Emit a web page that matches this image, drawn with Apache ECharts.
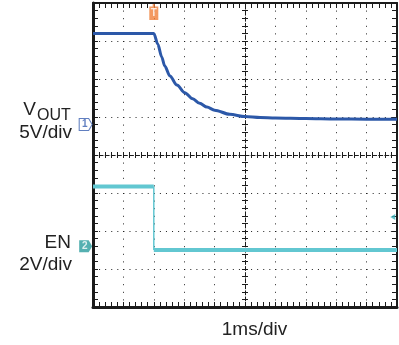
<!DOCTYPE html>
<html><head><meta charset="utf-8">
<script src="https://cdn.jsdelivr.net/npm/echarts@6/dist/echarts.min.js"></script>
<style>html,body{margin:0;padding:0;background:#fff}#c{width:399px;height:345px}</style>
</head><body><div id="c"></div>
<script>
// ---- data (time in ms, trigger at 0) ----
const timeVout = [-2, -1, 0, 0.13, 0.26, 0.36, 0.53, 0.76, 1.02, 1.28, 1.51, 1.75, 2.0, 2.5, 3.0, 3.5, 4.0, 5.0, 6.0, 7.0, 8.0];
const vout     = [12.0, 12.0, 12.0, 10.6, 8.9, 7.7, 6.4, 5.2, 4.2, 3.4, 2.8, 2.3, 1.9, 1.35, 1.05, 0.92, 0.86, 0.8, 0.74, 0.72, 0.7];
const timeEn   = [-2, 0, 0, 8];
const en       = [3.14, 3.14, -0.2, -0.2];
const groundLevel = 0;      // channel reference markers (V)
const groundMarkTime = -2.24;
const trigTime = 0;         // trigger time (ms)
const trigMarkV = 14.8;     // trigger marker height on VOUT scale
const trigLevelTime = 7.86;
const trigLevel = 1.54;     // EN trigger level (V)
const labels = {vout: 'V', voutSub: 'OUT', voutScale: '5V/div', en: 'EN', enScale: '2V/div', time: '1ms/div'};

const FONT = '"Liberation Sans", Arial, sans-serif';
const BLUE = '#2c58a8', TEAL = '#62c7d1', TEAL_D = '#2a9c9e', ORANGE = '#f07f3a', INK = '#1b1b1b';
const G = {left: 93, top: 3, width: 304, height: 304};

function edgeAxis(extra, w, split, dash) {
  return Object.assign({
    type: 'value', axisLabel: {show: false},
    axisLine: {show: true, onZero: false, lineStyle: {color: INK, width: w}},
    axisTick: {show: true, inside: true, length: 5, lineStyle: {color: INK, width: 1}},
    minorTick: {show: true, inside: true, splitNumber: 5, length: 5, lineStyle: {color: INK, width: 1}},
    splitLine: {show: split, lineStyle: {color: '#222', width: 1, type: dash}},
    minorSplitLine: {show: false}
  }, extra);
}
function centerAxis(extra, showLine) {
  return Object.assign({
    type: 'value', axisLabel: {show: false},
    axisLine: {show: showLine, onZero: true, lineStyle: {color: INK, width: 1, type: [4, 2.08]}},
    axisTick: {show: true, inside: true, length: 3, lineStyle: {color: INK, width: 1}},
    minorTick: {show: true, splitNumber: 5, length: 3, lineStyle: {color: INK, width: 1}},
    splitLine: {show: false}
  }, extra);
}

const chart = echarts.init(document.getElementById('c'), null, {renderer: 'canvas'});
const marker = (sym, size, fill, stroke, txt, txtColor, off) => ({
  symbol: sym, symbolSize: size,
  itemStyle: {color: fill, borderColor: stroke, borderWidth: stroke ? 1 : 0},
  label: {show: true, formatter: txt, position: 'inside', color: txtColor, fontSize: 10, fontWeight: 'bold', fontFamily: FONT, offset: off}
});

// EN: flat levels drawn thick, the switching edge thin (as on the scope)
const enLevels = [[timeEn[0], en[0]], [timeEn[1], en[1]], [timeEn[1], null], [timeEn[2], en[2]], [timeEn[3], en[3]]];
const enEdge = [[timeEn[1], en[1]], [timeEn[2], en[2]]];

chart.setOption({
  animation: false,
  backgroundColor: '#fff',
  grid: [Object.assign({outerBoundsMode: 'none', show: false}, G),
         Object.assign({outerBoundsMode: 'none', show: false}, G),
         Object.assign({outerBoundsMode: 'none', show: false}, G)],
  xAxis: [
    edgeAxis({gridIndex: 0, position: 'bottom', min: -5, max: 5, interval: 1}, 3, true, [1, 6.6]),
    edgeAxis({gridIndex: 0, position: 'top', min: -5, max: 5, interval: 1}, 2, false),
    centerAxis({gridIndex: 1, position: 'bottom', min: -5, max: 5, interval: 1}, true),
    centerAxis({gridIndex: 1, position: 'top', min: -5, max: 5, interval: 1}, false),
    {gridIndex: 2, type: 'value', min: -2, max: 8, show: false}
  ],
  yAxis: [
    edgeAxis({gridIndex: 0, position: 'left', min: -4, max: 4, interval: 1}, 3, true, [1, 5.08]),
    edgeAxis({gridIndex: 0, position: 'right', min: -4, max: 4, interval: 1}, 2, false),
    centerAxis({gridIndex: 1, position: 'left', min: -4, max: 4, interval: 1}, true),
    centerAxis({gridIndex: 1, position: 'right', min: -4, max: 4, interval: 1}, false),
    {gridIndex: 2, type: 'value', min: -24, max: 16, show: false},
    {gridIndex: 2, type: 'value', min: -3.2, max: 12.8, show: false}
  ],
  series: [
    {name: 'VOUT', type: 'line', xAxisIndex: 4, yAxisIndex: 4, showSymbol: false, smooth: 0.3, smoothMonotone: 'x',
     lineStyle: {color: BLUE, width: 3}, data: timeVout.map((t, i) => [t, vout[i]]), silent: true},
    {name: 'EN', type: 'line', xAxisIndex: 4, yAxisIndex: 5, showSymbol: false, connectNulls: false,
     lineStyle: {color: TEAL, width: 4}, data: enLevels, silent: true},
    {name: 'EN edge', type: 'line', xAxisIndex: 4, yAxisIndex: 5, showSymbol: false,
     lineStyle: {color: TEAL, width: 1.5}, data: enEdge, silent: true},
    {type: 'scatter', xAxisIndex: 4, yAxisIndex: 4, clip: false, silent: true, z: 5,
     data: [Object.assign({value: [groundMarkTime, groundLevel]},
                marker('path://M0,0 L8,0 L11,5.5 L8,11 L0,11 Z', [13, 12], '#fff', '#3a5fb0', '1', '#3a5fb0', [-1, 0])),
            Object.assign({value: [trigTime, trigMarkV]},
                marker('path://M3,0 L5,0 L5,2 L8,2 L8,14 L0,14 L0,2 L3,2 Z', [9, 16], ORANGE, null, 'T', '#fff', [0, 1]))]},
    {type: 'scatter', xAxisIndex: 4, yAxisIndex: 5, clip: false, silent: true, z: 5,
     data: [Object.assign({value: [groundMarkTime, groundLevel]},
                marker('path://M0,0 L8,0 L11,5.5 L8,11 L0,11 Z', [13, 12], TEAL_D, null, '2', '#fff', [-1, 0])),
            Object.assign({value: [trigLevelTime, trigLevel]},
                marker('path://M5,0 L0,3 L5,6 Z', [5, 6], '#3fb3bb', null, '', '#fff', [0, 0]))]}
  ],
  graphic: [
    {type: 'text', x: 36, y: 110, style: {text: labels.vout, font: '19px ' + FONT, fill: '#222', align: 'right', verticalAlign: 'middle'}},
    {type: 'text', x: 37, y: 116, style: {text: labels.voutSub, font: '16px ' + FONT, fill: '#222', align: 'left', verticalAlign: 'middle'}},
    {type: 'text', x: 72, y: 133, style: {text: labels.voutScale, font: '19px ' + FONT, fill: '#222', align: 'right', verticalAlign: 'middle'}},
    {type: 'text', x: 71, y: 242.5, style: {text: labels.en, font: '19px ' + FONT, fill: '#222', align: 'right', verticalAlign: 'middle'}},
    {type: 'text', x: 72, y: 265, style: {text: labels.enScale, font: '19px ' + FONT, fill: '#222', align: 'right', verticalAlign: 'middle'}},
    {type: 'text', x: 254.5, y: 330, style: {text: labels.time, font: '19px ' + FONT, fill: '#222', align: 'center', verticalAlign: 'middle'}}
  ]
});
</script></body></html>
